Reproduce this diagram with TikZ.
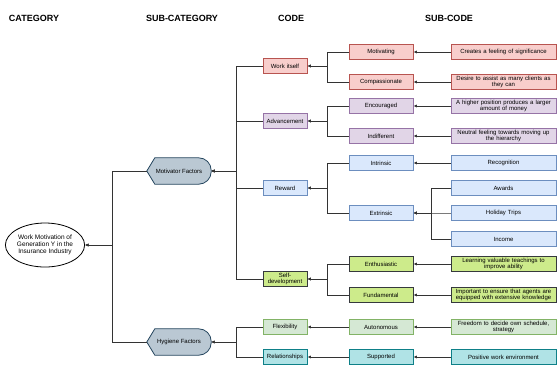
\documentclass[tikz,border=0pt]{standalone}
\usepackage{fontspec}
\setmainfont{Liberation Sans}
\usepackage{xcolor}
\usepackage{tikz}
\usetikzlibrary{positioning,arrows.meta,shapes.geometric,backgrounds}

\definecolor{redfill}{HTML}{F8CECC}
\definecolor{redline}{HTML}{B85450}
\definecolor{purplefill}{HTML}{E1D5E7}
\definecolor{purpleline}{HTML}{9673A6}
\definecolor{bluefill}{HTML}{DAE8FC}
\definecolor{blueline}{HTML}{6C8EBF}
\definecolor{limefill}{HTML}{CDEB8B}
\definecolor{limeline}{HTML}{36393D}
\definecolor{greenfill}{HTML}{D5E8D4}
\definecolor{greenline}{HTML}{82B366}
\definecolor{tealfill}{HTML}{B0E3E6}
\definecolor{tealline}{HTML}{0E8088}
\definecolor{subcatfill}{HTML}{BAC8D3}
\definecolor{subcatline}{HTML}{23445D}
\definecolor{linkgray}{HTML}{333333}

\begin{document}
\begin{tikzpicture}[x=1pt, y=-1pt,
    smallfont/.style={font=\fontsize{6}{6.6}\selectfont},
    box/.style={draw, smallfont, minimum height=15pt, inner sep=1pt, align=center, line width=0.8pt},
    codebox/.style={box, minimum width=44pt, text width=42pt},
    subbox/.style={box, minimum width=64pt},
    itembox/.style={box, minimum width=105pt, text width=103pt},
    red/.style={fill=redfill, draw=redline},
    purple/.style={fill=purplefill, draw=purpleline},
    blue/.style={fill=bluefill, draw=blueline},
    lime/.style={fill=limefill, draw=limeline},
    green/.style={fill=greenfill, draw=greenline},
    teal/.style={fill=tealfill, draw=tealline},
    subcat/.style={smallfont, minimum width=64pt, minimum height=26pt, inner sep=0pt},
    head/.style={font=\fontsize{9}{10}\selectfont\bfseries},
    link/.style={-{Latex[length=3.5pt,width=3.2pt]}, line width=0.9pt, draw=linkgray}]

\useasboundingbox (0,0) rectangle (557,365);

\node[head] (h_cat) at (34,18) {CATEGORY};
\node[head] (h_subcat) at (182,18) {SUB-CATEGORY};
\node[head] (h_code) at (291,18) {CODE};
\node[head] (h_subcode) at (449,18) {SUB-CODE};

\node[draw, ellipse, font=\fontsize{6.5}{7.2}\selectfont, fill=white, minimum width=75pt, minimum height=44pt, inner sep=0pt, align=center, line width=0.8pt] (cat) at (45,245) {Work Motivation of\\Generation Y in the\\Insurance Industry};

\node[subcat] (subcat_0) at (179,171) {Motivator Factors};
\node[subcat] (subcat_1) at (179,342) {Hygiene Factors};

\begin{scope}[on background layer]
\filldraw[fill=subcatfill, draw=subcatline, line width=0.8pt] (subcat_0.west) -- ([xshift=8pt]subcat_0.north west) [rounded corners=12.5pt]-- (subcat_0.north east) -- (subcat_0.south east) [sharp corners]-- ([xshift=8pt]subcat_0.south west) -- cycle;
\filldraw[fill=subcatfill, draw=subcatline, line width=0.8pt] (subcat_1.west) -- ([xshift=8pt]subcat_1.north west) [rounded corners=12.5pt]-- (subcat_1.north east) -- (subcat_1.south east) [sharp corners]-- ([xshift=8pt]subcat_1.south west) -- cycle;
\end{scope}

\node[codebox, red] (code_0) at (285,66) {Work itself};
\node[codebox, purple] (code_1) at (285,121) {Advancement};
\node[codebox, blue] (code_2) at (285,188) {Reward};
\node[codebox, lime] (code_3) at (285,279) {Self-\\development};
\node[codebox, green] (code_4) at (285,327) {Flexibility};
\node[codebox, teal] (code_5) at (285,357) {Relationships};

\node[subbox, red] (sub_0) at (381,52) {Motivating};
\node[subbox, red] (sub_1) at (381,82) {Compassionate};
\node[subbox, purple] (sub_2) at (381,106) {Encouraged};
\node[subbox, purple] (sub_3) at (381,136) {Indifferent};
\node[subbox, blue] (sub_4) at (381,163) {Intrinsic};
\node[subbox, blue] (sub_5) at (381,213) {Extrinsic};
\node[subbox, lime] (sub_6) at (381,264) {Enthusiastic};
\node[subbox, lime] (sub_7) at (381,295) {Fundamental};
\node[subbox, green] (sub_8) at (381,327) {Autonomous};
\node[subbox, teal] (sub_9) at (381,357) {Supported};

\node[itembox, red] (item_0) at (503.5,52) {Creates a feeling of significance};
\node[itembox, red] (item_1) at (503.5,82) {Desire to assist as many clients as\\they can};
\node[itembox, purple] (item_2) at (503.5,106) {A higher position produces a larger\\amount of money};
\node[itembox, purple] (item_3) at (503.5,136) {Neutral feeling towards moving up\\the hierarchy};
\node[itembox, blue] (item_4) at (503.5,163) {Recognition};
\node[itembox, blue] (item_5) at (503.5,188) {Awards};
\node[itembox, blue] (item_6) at (503.5,213) {Holiday Trips};
\node[itembox, blue] (item_7) at (503.5,239) {Income};
\node[itembox, lime] (item_8) at (503.5,264) {Learning valuable teachings to\\improve ability};
\node[itembox, lime] (item_9) at (503.5,295) {Important to ensure that agents are\\equipped with extensive knowledge};
\node[itembox, green] (item_10) at (503.5,327) {Freedom to decide own schedule,\\strategy};
\node[itembox, teal] (item_11) at (503.5,357) {Positive work environment};

% sub-code to code
\draw[link] (item_0) -- (sub_0);
\draw[link] (item_1) -- (sub_1);
\draw[link] (item_2) -- (sub_2);
\draw[link] (item_3) -- (sub_3);
\draw[link] (item_4) -- (sub_4);
\draw[link] (item_5.west) -- ++(-19,0) |- (sub_5.east);
\draw[link] (item_6.west) -- ++(-19,0) |- (sub_5.east);
\draw[link] (item_7.west) -- ++(-19,0) |- (sub_5.east);
\draw[link] (item_8) -- (sub_6);
\draw[link] (item_9) -- (sub_7);
\draw[link] (item_10) -- (sub_8);
\draw[link] (item_11) -- (sub_9);

\draw[link] (sub_0.west) -- ++(-21,0) |- (code_0.east);
\draw[link] (sub_1.west) -- ++(-21,0) |- (code_0.east);
\draw[link] (sub_2.west) -- ++(-21,0) |- (code_1.east);
\draw[link] (sub_3.west) -- ++(-21,0) |- (code_1.east);
\draw[link] (sub_4.west) -- ++(-21,0) |- (code_2.east);
\draw[link] (sub_5.west) -- ++(-21,0) |- (code_2.east);
\draw[link] (sub_6.west) -- ++(-21,0) |- (code_3.east);
\draw[link] (sub_7.west) -- ++(-21,0) |- (code_3.east);
\draw[link] (sub_8) -- (code_4);
\draw[link] (sub_9) -- (code_5);

% code to category
\draw[link] (code_0.west) -- ++(-26,0) |- (subcat_0.east);
\draw[link] (code_1.west) -- ++(-26,0) |- (subcat_0.east);
\draw[link] (code_2.west) -- ++(-26,0) |- (subcat_0.east);
\draw[link] (code_3.west) -- ++(-26,0) |- (subcat_0.east);
\draw[link] (code_4.west) -- ++(-26,0) |- (subcat_1.east);
\draw[link] (code_5.west) -- ++(-26,0) |- (subcat_1.east);

\draw[link] (subcat_0.west) -- ++(-34,0) |- (cat.east);
\draw[link] (subcat_1.west) -- ++(-34,0) |- (cat.east);

\end{tikzpicture}
\end{document}
